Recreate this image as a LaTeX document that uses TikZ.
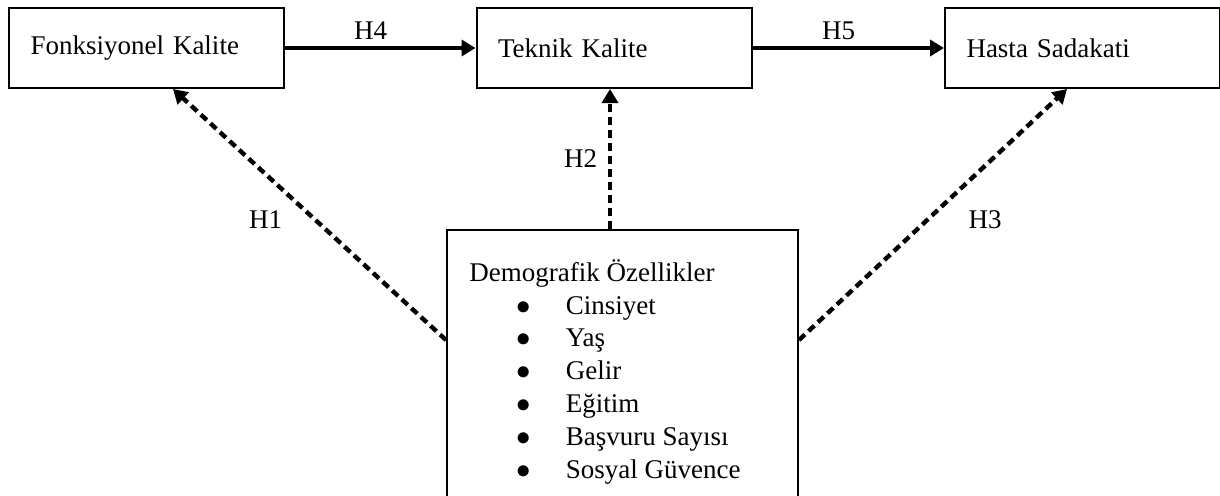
\documentclass[tikz,border=0pt]{standalone}
\usepackage{fontspec}
\setmainfont{Liberation Serif}
\usetikzlibrary{arrows.meta,positioning}

\begin{document}
\begin{tikzpicture}[x=0.5pt, y=-0.5pt,
        every node/.style = {font=\fontsize{13.5pt}{16.4pt}\selectfont},
        main/.style = {draw, line width=1pt, minimum width=137.5pt, minimum height=40pt,
                       text width=116pt, inner xsep=10.75pt, align=left},
        solid arrow/.style = {-{Triangle[length=7pt, width=8pt]}, line width=2pt},
        dashed arrow/.style = {-{Triangle[length=7pt, width=8pt]}, line width=2.2pt,
                               dash pattern=on 4pt off 2.5pt} ]
        \useasboundingbox (0,0) rectangle (1220,495);
        \clip (0,0) rectangle (1220,495);

        \node at (146.5, 48) [main] (fk) {Fonksiyonel Kalite};
        \node at (614, 48) [main] (tk) {Teknik Kalite};
        \node at (1082.5, 48) [main] (hs) {Hasta Sadakati};
        \node at (622.5, 229) [draw, line width=1pt, anchor=north,
                minimum width=175.5pt, minimum height=150pt] (demo) {};
        \node at (469, 259) [anchor=north west, inner sep=0pt, align=left] (demolist)
            {Demografik Özellikler\\
             \hspace*{23.5pt}$\bullet$\hspace{17.5pt}Cinsiyet\\
             \hspace*{23.5pt}$\bullet$\hspace{17.5pt}Yaş\\
             \hspace*{23.5pt}$\bullet$\hspace{17.5pt}Gelir\\
             \hspace*{23.5pt}$\bullet$\hspace{17.5pt}Eğitim\\
             \hspace*{23.5pt}$\bullet$\hspace{17.5pt}Başvuru Sayısı\\
             \hspace*{23.5pt}$\bullet$\hspace{17.5pt}Sosyal Güvence};

        \path[solid arrow]
        (fk) edge node[above, pos=0.45, name=h4] {H4} (tk)
        (tk) edge node[above, pos=0.45, name=h5] {H5} (hs);

        \path[dashed arrow]
        ([yshift=-55.5pt]demo.north west) edge node[pos=0.48, left=12pt, name=h1] {H1} ([xshift=13.25pt]fk.south)
        ([xshift=-6.25pt]demo.north) edge node[pos=0.5, left=2pt, name=h2] {H2} ([xshift=-2pt]tk.south)
        ([yshift=-55.5pt]demo.north east) edge node[pos=0.48, right=16pt, name=h3] {H3} ([xshift=-7.75pt]hs.south);
    \end{tikzpicture}
\end{document}
